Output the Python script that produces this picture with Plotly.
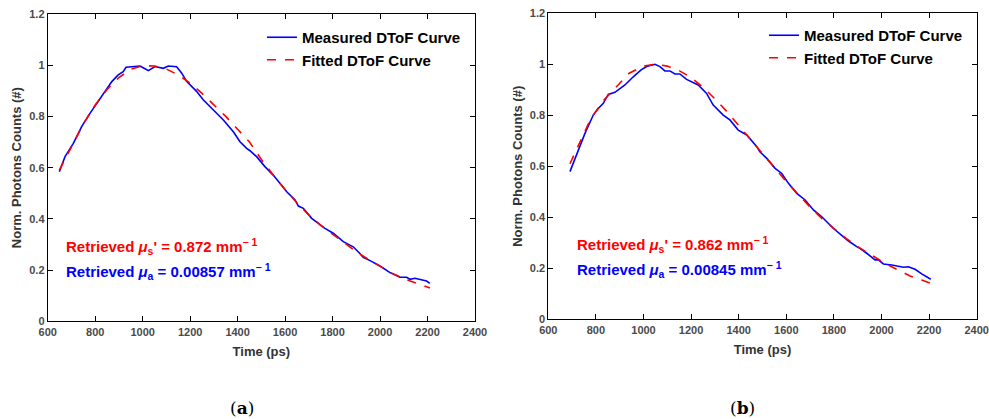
import plotly.graph_objects as go

# ---------------- data ----------------
a_meas_t = [649, 673, 708, 743, 778, 820, 870, 897, 918, 930, 960, 989, 1010, 1024, 1052, 1087, 1108,
            1143, 1164, 1185, 1227, 1255, 1298, 1340, 1382, 1410, 1438, 1452, 1480, 1515, 1550, 1578,
            1607, 1642, 1656, 1677, 1712, 1768, 1803, 1845, 1887, 1915, 1929, 1958, 2000, 2042, 2056,
            2084, 2112, 2126, 2147, 2182, 2196, 2210]
a_meas_y = [0.584, 0.643, 0.695, 0.760, 0.812, 0.871, 0.936, 0.962, 0.975, 0.992, 0.994, 0.997, 0.986,
            0.979, 0.995, 0.988, 0.997, 0.994, 0.970, 0.937, 0.898, 0.865, 0.825, 0.786, 0.740, 0.701,
            0.675, 0.666, 0.643, 0.604, 0.571, 0.539, 0.506, 0.474, 0.450, 0.441, 0.402, 0.363, 0.344,
            0.311, 0.291, 0.265, 0.250, 0.237, 0.216, 0.190, 0.185, 0.172, 0.172, 0.164, 0.168, 0.161,
            0.157, 0.148]
a_fit_t = [649, 700, 750, 800, 850, 900, 950, 1000, 1050, 1100, 1150, 1200, 1250, 1300, 1350, 1400,
           1450, 1500, 1550, 1600, 1650, 1700, 1750, 1800, 1850, 1900, 1950, 2000, 2050, 2100, 2150, 2210]
a_fit_y = [0.59, 0.683, 0.77, 0.845, 0.905, 0.952, 0.984, 0.998, 0.997, 0.985, 0.962, 0.93, 0.89, 0.845,
           0.80, 0.75, 0.70, 0.632, 0.571, 0.515, 0.462, 0.415, 0.375, 0.34, 0.305, 0.272, 0.242, 0.215,
           0.188, 0.166, 0.15, 0.13]

b_meas_t = [691, 719, 754, 789, 810, 831, 852, 880, 922, 957, 990, 1013, 1048, 1069, 1090, 1111, 1132,
            1153, 1181, 1230, 1265, 1293, 1335, 1363, 1398, 1434, 1476, 1489, 1518, 1553, 1581, 1609,
            1644, 1679, 1714, 1749, 1797, 1839, 1860, 1896, 1909, 1938, 1973, 1987, 2008, 2043, 2064,
            2092, 2113, 2141, 2169, 2190, 2207]
b_meas_y = [0.579, 0.644, 0.729, 0.801, 0.827, 0.847, 0.882, 0.890, 0.919, 0.951, 0.978, 0.991, 1.0,
            0.991, 0.974, 0.974, 0.962, 0.962, 0.941, 0.919, 0.886, 0.840, 0.801, 0.782, 0.742, 0.723,
            0.677, 0.657, 0.631, 0.592, 0.572, 0.533, 0.494, 0.468, 0.429, 0.402, 0.357, 0.324, 0.308,
            0.285, 0.278, 0.259, 0.233, 0.233, 0.217, 0.213, 0.209, 0.204, 0.206, 0.196, 0.178, 0.165,
            0.157]
b_fit_t = [691, 737, 779, 834, 872, 905, 940, 1000, 1050, 1100, 1150, 1200, 1250, 1300, 1350, 1400,
           1450, 1500, 1550, 1600, 1650, 1700, 1750, 1800, 1850, 1900, 1950, 2000, 2036, 2078, 2120,
           2169, 2207]
b_fit_y = [0.610, 0.703, 0.788, 0.860, 0.899, 0.932, 0.965, 0.993, 1.0, 0.993, 0.975, 0.948, 0.91,
           0.865, 0.815, 0.76, 0.705, 0.65, 0.595, 0.54, 0.49, 0.44, 0.395, 0.355, 0.318, 0.285, 0.255,
           0.228, 0.209, 0.189, 0.170, 0.154, 0.141]

x_ticks = [600, 800, 1000, 1200, 1400, 1600, 1800, 2000, 2200, 2400]
y_ticks = [0, 0.2, 0.4, 0.6, 0.8, 1, 1.2]
y_ticklabels = ["0", "0.2", "0.4", "0.6", "0.8", "1", "1.2"]
series_names = ["Measured DToF Curve", "Fitted DToF Curve"]
mus_text = ["0.872", "0.862"]
mua_text = ["0.00857", "0.00845"]
captions = ["a", "b"]

# ---------------- figure ----------------
W, H = 989, 419
fig = go.Figure()

BLUE = "#0000ff"
RED = "#ff0000"

panels = [
    dict(xa="x", ya="y", leg="legend", mt=a_meas_t, my=a_meas_y, ft=a_fit_t, fy=a_fit_y),
    dict(xa="x2", ya="y2", leg="legend2", mt=b_meas_t, my=b_meas_y, ft=b_fit_t, fy=b_fit_y),
]
for p in panels:
    fig.add_trace(go.Scatter(x=p["mt"], y=p["my"], mode="lines", name=series_names[0],
                             line=dict(color=BLUE, width=1.6), xaxis=p["xa"], yaxis=p["ya"],
                             legend=p["leg"]))
    fig.add_trace(go.Scatter(x=p["ft"], y=p["fy"], mode="lines", name=series_names[1],
                             line=dict(color=RED, width=1.6, dash="dash"), xaxis=p["xa"], yaxis=p["ya"],
                             legend=p["leg"]))

tickfont = dict(family="Liberation Sans, Arial", size=11, color="#4a4a4a", weight="bold")
titlefont = dict(family="Liberation Sans, Arial", size=13, color="#333333", weight="bold")

def xaxis_cfg(dom):
    return dict(domain=dom, range=[600, 2400], tickmode="array", tickvals=x_ticks,
                ticks="inside", ticklen=5, tickcolor="black", showline=True, linecolor="black",
                linewidth=1, mirror="ticks", showgrid=False, zeroline=False, tickfont=tickfont,
                title=dict(text="Time (ps)", font=titlefont, standoff=10), automargin=False)

def yaxis_cfg(dom, anchor):
    return dict(domain=dom, range=[0, 1.2], tickmode="array", tickvals=y_ticks, ticktext=y_ticklabels,
                ticks="inside", ticklen=5, tickcolor="black", showline=True, linecolor="black",
                linewidth=1, mirror="ticks", showgrid=False, zeroline=False, tickfont=tickfont,
                title=dict(text="Norm. Photons Counts (#)", font=titlefont, standoff=4),
                anchor=anchor, automargin=False)

fig.update_layout(
    width=W, height=H,
    margin=dict(l=0, r=0, t=0, b=0),
    paper_bgcolor="white", plot_bgcolor="white",
    xaxis=dict(xaxis_cfg([47.7 / W, 475 / W]), anchor="y"),
    yaxis=yaxis_cfg([1 - 321.3 / H, 1 - 14 / H], "x"),
    xaxis2=dict(xaxis_cfg([548.3 / W, 976.7 / W]), anchor="y2"),
    yaxis2=yaxis_cfg([1 - 319.3 / H, 1 - 13.3 / H], "x2"),
    showlegend=True,
)

legfont = dict(family="Liberation Sans, Arial", size=15, color="black", weight="bold")
fig.update_layout(
    legend=dict(x=262 / W, y=1 - 21 / H, xanchor="left", yanchor="top", font=legfont,
                bgcolor="rgba(0,0,0,0)", borderwidth=0, itemwidth=30, tracegroupgap=0),
    legend2=dict(x=764 / W, y=1 - 19 / H, xanchor="left", yanchor="top", font=legfont,
                 bgcolor="rgba(0,0,0,0)", borderwidth=0, itemwidth=30, tracegroupgap=0),
)

annfont = dict(family="Liberation Sans, Arial", size=15, weight="bold")
ann_pos = [("x", "y", 669), ("x2", "y2", 712)]
for i, (xr, yr, x0) in enumerate(ann_pos):
    fig.add_annotation(xref=xr, yref=yr, x=x0, y=0.293, xanchor="left", yanchor="middle",
                       showarrow=False, font=dict(annfont, color=RED),
                       text=f"Retrieved <i>μ</i><sub>s</sub>' = {mus_text[i]} mm<sup>− 1</sup>")
    fig.add_annotation(xref=xr, yref=yr, x=x0, y=0.194, xanchor="left", yanchor="middle",
                       showarrow=False, font=dict(annfont, color=BLUE),
                       text=f"Retrieved <i>μ</i><sub>a</sub> = {mua_text[i]} mm<sup>− 1</sup>")

capfont = dict(family="DejaVu Serif, Liberation Serif", size=17, color="black")
for cx, c in zip([242, 742], captions):
    fig.add_annotation(xref="paper", yref="paper", x=cx / W, y=1 - 408 / H, xanchor="center",
                       yanchor="middle", showarrow=False, font=capfont, text=f"(<b>{c}</b>)")

fig.write_html("out.html")
